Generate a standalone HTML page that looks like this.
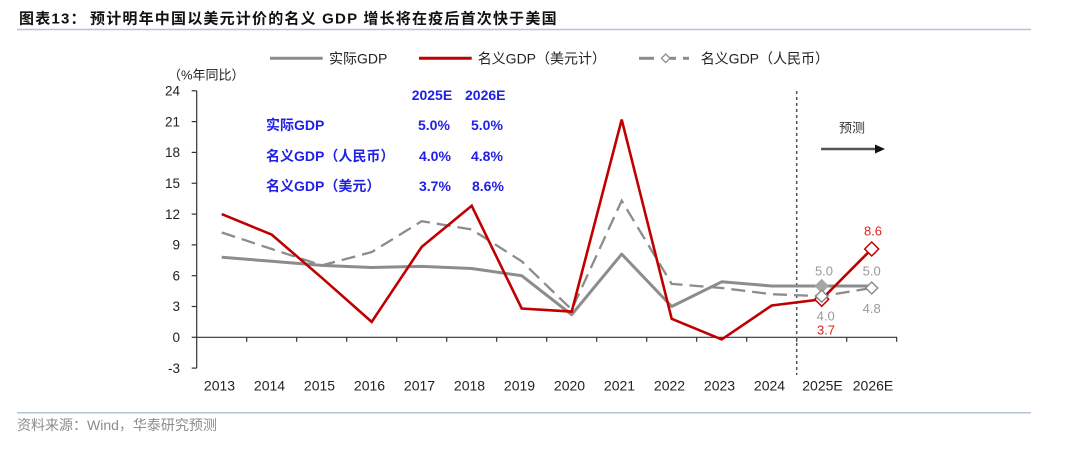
<!DOCTYPE html>
<html>
<head>
<meta charset="utf-8">
<style>
  html, body { margin:0; padding:0; background:#ffffff; }
  body { width:1080px; height:449px; overflow:hidden; }
  svg { display:block; }
  text { font-family: "Liberation Sans", "Noto Sans CJK SC", sans-serif; }
</style>
</head>
<body>
<svg width="1080" height="449" viewBox="0 0 1080 449" xmlns="http://www.w3.org/2000/svg">
  <!-- Title -->
  <text x="19" y="23.5" font-size="15" font-weight="bold" fill="#111" letter-spacing="1.2">图表13：</text>
  <text x="90" y="23.5" font-size="15" font-weight="bold" fill="#111" letter-spacing="1.2">预计明年中国以美元计价的名义 GDP 增长将在疫后首次快于美国</text>
  <line x1="17" y1="29.5" x2="1031" y2="29.5" stroke="#b4c4d8" stroke-width="1.5"/>

  <!-- Legend -->
  <line x1="270" y1="58.3" x2="322.7" y2="58.3" stroke="#8c8c8c" stroke-width="3"/>
  <text x="329" y="63.3" font-size="14" fill="#222">实际GDP</text>
  <line x1="419" y1="58.3" x2="471.7" y2="58.3" stroke="#c00000" stroke-width="3"/>
  <text x="477.7" y="63.3" font-size="14" fill="#222">名义GDP（美元计）</text>
  <line x1="639" y1="58.3" x2="654" y2="58.3" stroke="#8c8c8c" stroke-width="3"/>
  <line x1="670" y1="58.3" x2="676" y2="58.3" stroke="#8c8c8c" stroke-width="3"/>
  <line x1="683" y1="58.3" x2="689" y2="58.3" stroke="#8c8c8c" stroke-width="3"/>
  <polygon points="665.7,54 670,58.3 665.7,62.6 661.4,58.3" fill="#fff" stroke="#8c8c8c" stroke-width="1.3"/>
  <text x="700.7" y="63.3" font-size="14" fill="#222">名义GDP（人民币）</text>

  <!-- Y axis unit -->
  <text x="168" y="79.5" font-size="13" fill="#222">（%年同比）</text>

  <!-- Y axis -->
  <line x1="196.7" y1="90.8" x2="196.7" y2="368.1" stroke="#333" stroke-width="1.2"/>
  <g stroke="#333" stroke-width="1.2">
    <line x1="191.7" y1="90.8" x2="196.7" y2="90.8"/>
    <line x1="191.7" y1="121.6" x2="196.7" y2="121.6"/>
    <line x1="191.7" y1="152.4" x2="196.7" y2="152.4"/>
    <line x1="191.7" y1="183.25" x2="196.7" y2="183.25"/>
    <line x1="191.7" y1="214.1" x2="196.7" y2="214.1"/>
    <line x1="191.7" y1="244.9" x2="196.7" y2="244.9"/>
    <line x1="191.7" y1="275.7" x2="196.7" y2="275.7"/>
    <line x1="191.7" y1="306.5" x2="196.7" y2="306.5"/>
    <line x1="191.7" y1="337.3" x2="196.7" y2="337.3"/>
    <line x1="191.7" y1="368.1" x2="196.7" y2="368.1"/>
  </g>
  <g font-size="13.5" fill="#222" text-anchor="end">
    <text x="180" y="95.5">24</text>
    <text x="180" y="126.3">21</text>
    <text x="180" y="157.1">18</text>
    <text x="180" y="188">15</text>
    <text x="180" y="218.8">12</text>
    <text x="180" y="249.6">9</text>
    <text x="180" y="280.4">6</text>
    <text x="180" y="311.2">3</text>
    <text x="180" y="342">0</text>
    <text x="180" y="372.8">-3</text>
  </g>

  <!-- X axis (zero line) -->
  <line x1="196.7" y1="337.3" x2="897" y2="337.3" stroke="#333" stroke-width="1.2"/>
  <g stroke="#333" stroke-width="1.2">
    <line x1="246.7" y1="337.3" x2="246.7" y2="341.8"/>
    <line x1="296.7" y1="337.3" x2="296.7" y2="341.8"/>
    <line x1="346.7" y1="337.3" x2="346.7" y2="341.8"/>
    <line x1="396.7" y1="337.3" x2="396.7" y2="341.8"/>
    <line x1="446.7" y1="337.3" x2="446.7" y2="341.8"/>
    <line x1="496.7" y1="337.3" x2="496.7" y2="341.8"/>
    <line x1="546.7" y1="337.3" x2="546.7" y2="341.8"/>
    <line x1="596.7" y1="337.3" x2="596.7" y2="341.8"/>
    <line x1="646.7" y1="337.3" x2="646.7" y2="341.8"/>
    <line x1="696.7" y1="337.3" x2="696.7" y2="341.8"/>
    <line x1="746.7" y1="337.3" x2="746.7" y2="341.8"/>
    <line x1="796.7" y1="337.3" x2="796.7" y2="341.8"/>
    <line x1="846.7" y1="337.3" x2="846.7" y2="341.8"/>
    <line x1="896.7" y1="337.3" x2="896.7" y2="341.8"/>
  </g>
  <g font-size="14" fill="#222" text-anchor="middle">
    <text x="219.5" y="390.7">2013</text>
    <text x="269.5" y="390.7">2014</text>
    <text x="319.5" y="390.7">2015</text>
    <text x="369.5" y="390.7">2016</text>
    <text x="419.5" y="390.7">2017</text>
    <text x="469.5" y="390.7">2018</text>
    <text x="519.5" y="390.7">2019</text>
    <text x="569.5" y="390.7">2020</text>
    <text x="619.5" y="390.7">2021</text>
    <text x="669.5" y="390.7">2022</text>
    <text x="719.5" y="390.7">2023</text>
    <text x="769.5" y="390.7">2024</text>
    <text x="822.5" y="390.7">2025E</text>
    <text x="873" y="390.7">2026E</text>
  </g>

  <!-- Forecast divider -->
  <line x1="796.7" y1="91" x2="796.7" y2="375" stroke="#555" stroke-width="1.5" stroke-dasharray="3,3"/>
  <text x="839" y="132.5" font-size="13" fill="#333">预测</text>
  <line x1="821" y1="149" x2="877" y2="149" stroke="#555" stroke-width="2.5"/>
  <polygon points="875,144.5 885,149 875,153.5" fill="#111"/>

  <!-- Inset table -->
  <g font-size="14" font-weight="bold" fill="#2020e6">
    <text x="411.7" y="100">2025E</text>
    <text x="465" y="100">2026E</text>
    <text x="266" y="130">实际GDP</text>
    <text x="418" y="130">5.0%</text>
    <text x="471" y="130">5.0%</text>
    <text x="266" y="161">名义GDP（人民币）</text>
    <text x="419" y="161">4.0%</text>
    <text x="471" y="161">4.8%</text>
    <text x="266" y="191">名义GDP（美元）</text>
    <text x="419" y="191">3.7%</text>
    <text x="472" y="191">8.6%</text>
  </g>

  <!-- Series: real GDP -->
  <polyline fill="none" stroke="#8c8c8c" stroke-width="3" stroke-linejoin="round"
    points="221.7,257.2 271.7,261.3 321.7,265.4 371.7,267.5 421.7,266.4 471.7,268.5 521.7,275.7 571.7,314.7 621.7,254.1 671.7,306.5 721.7,281.8 771.7,286 821.7,286 871.7,286"/>
  <!-- Series: nominal RMB (dashed) -->
  <polyline fill="none" stroke="#8c8c8c" stroke-width="2.3" stroke-dasharray="14,7"
    points="221.7,232.5 271.7,249 321.7,265.4 371.7,252.1 421.7,221.2 471.7,229.5 521.7,261.3 571.7,309.6 621.7,200.7 671.7,283.9 721.7,288 771.7,294.2 821.7,296.2 871.7,288"/>
  <!-- Series: nominal USD -->
  <polyline fill="none" stroke="#c00000" stroke-width="2.6" stroke-linejoin="miter"
    points="221.7,214.1 271.7,234.6 321.7,277.7 371.7,321.9 421.7,246.9 471.7,205.8 521.7,308.5 571.7,311.6 621.7,119.6 671.7,318.8 721.7,339.4 771.7,305.5 821.7,299.3 871.7,249"/>

  <!-- Markers -->
  <polygon points="821.7,279.5 828.2,286 821.7,292.5 815.2,286" fill="#a6a6a6" stroke="#a6a6a6" stroke-width="1"/>
  <polygon points="821.7,292.3 828.7,299.3 821.7,306.3 814.7,299.3" fill="#fff" stroke="#c00000" stroke-width="1.5"/>
  <polygon points="821.7,290.2 827.7,296.2 821.7,302.2 815.7,296.2" fill="#fff" stroke="#8c8c8c" stroke-width="1.5"/>
  <polygon points="871.7,282 877.7,288 871.7,294 865.7,288" fill="#fff" stroke="#8c8c8c" stroke-width="1.5"/>
  <polygon points="871.7,242 878.7,249 871.7,256 864.7,249" fill="#fff" stroke="#c00000" stroke-width="1.5"/>

  <!-- Data labels -->
  <g font-size="13" text-anchor="middle">
    <text x="824" y="275.3" fill="#999">5.0</text>
    <text x="825.7" y="320.3" fill="#999">4.0</text>
    <text x="826" y="334.6" fill="#e02020">3.7</text>
    <text x="871.7" y="275.3" fill="#999">5.0</text>
    <text x="871.7" y="312.9" fill="#999">4.8</text>
    <text x="873" y="235.3" fill="#e02020">8.6</text>
  </g>

  <!-- Footer -->
  <line x1="17" y1="412.7" x2="1031" y2="412.7" stroke="#b4c4d8" stroke-width="1.5"/>
  <text x="17" y="430" font-size="14" fill="#8c8c8c">资料来源：Wind，华泰研究预测</text>
</svg>
</body>
</html>
